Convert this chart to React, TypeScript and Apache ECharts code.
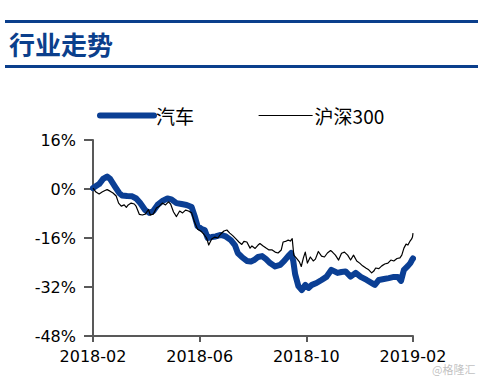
import { useEffect, useRef } from 'react';
import * as echarts from 'echarts';

const xTickLabels = ['2018-02', '2018-06', '2018-10', '2019-02'];
const yTicks = [16, 0, -16, -32, -48];

// months since 2018-02 (x) and cumulative return % (y)
const autoMonths = [0, 0.23, 0.38, 0.53, 0.64, 0.83, 0.98, 1.09, 1.28, 1.47, 1.62, 1.77, 1.96, 2.11, 2.26, 2.42, 2.6, 2.79, 2.94, 3.13, 3.32, 3.51, 3.7, 3.81, 3.92, 4.08, 4.19, 4.3, 4.45, 4.6, 4.79, 4.98, 5.17, 5.32, 5.43, 5.58, 5.77, 5.92, 6.04, 6.19, 6.34, 6.49, 6.64, 6.83, 7.02, 7.17, 7.32, 7.43, 7.51, 7.58, 7.7, 7.83, 7.96, 8.08, 8.21, 8.38, 8.57, 8.75, 8.94, 9.06, 9.17, 9.32, 9.47, 9.66, 9.85, 10.04, 10.26, 10.49, 10.57, 10.72, 10.91, 11.09, 11.28, 11.43, 11.55, 11.66, 11.81, 11.9, 11.96, 12.0];
const autoValues = [0.3, 1.6, 3.3, 4.1, 3.3, 0.7, -1.3, -2.1, -2.3, -2.4, -3.1, -4.6, -6.9, -7.8, -7.2, -5.2, -3.9, -3.1, -3.4, -4.6, -4.9, -5.2, -5.9, -8.8, -12.1, -13.1, -13.4, -16.0, -15.7, -15.5, -15.0, -15.5, -16.7, -18.3, -20.9, -22.2, -23.5, -23.7, -23.2, -22.2, -21.9, -22.9, -24.2, -25.3, -24.8, -23.5, -21.9, -20.9, -23.5, -27.8, -31.7, -33.0, -31.3, -32.3, -31.3, -30.7, -29.7, -28.7, -26.4, -26.9, -27.4, -27.1, -26.9, -28.6, -27.4, -28.7, -29.7, -30.9, -31.3, -29.7, -29.4, -29.1, -28.7, -28.7, -30.0, -26.4, -25.1, -24.2, -23.2, -22.7];

const hs300Months = [0, 0.11, 0.23, 0.34, 0.45, 0.53, 0.64, 0.75, 0.87, 0.96, 1.06, 1.17, 1.25, 1.32, 1.43, 1.55, 1.62, 1.74, 1.85, 1.96, 2.08, 2.15, 2.26, 2.38, 2.49, 2.6, 2.72, 2.83, 2.91, 3.02, 3.13, 3.25, 3.36, 3.47, 3.58, 3.7, 3.81, 3.92, 4.04, 4.15, 4.26, 4.34, 4.45, 4.57, 4.68, 4.79, 4.91, 5.02, 5.13, 5.25, 5.36, 5.47, 5.58, 5.66, 5.77, 5.89, 5.96, 6.08, 6.19, 6.26, 6.38, 6.49, 6.6, 6.72, 6.83, 6.94, 7.06, 7.13, 7.25, 7.32, 7.4, 7.47, 7.53, 7.62, 7.74, 7.81, 7.89, 7.96, 8.04, 8.15, 8.26, 8.34, 8.45, 8.57, 8.68, 8.79, 8.91, 8.98, 9.09, 9.21, 9.32, 9.43, 9.55, 9.66, 9.77, 9.89, 10.0, 10.11, 10.23, 10.34, 10.45, 10.53, 10.6, 10.72, 10.83, 10.94, 11.06, 11.17, 11.28, 11.4, 11.51, 11.58, 11.66, 11.74, 11.81, 11.89, 11.95, 11.98, 12.0];
const hs300Values = [0.3, -1.0, -1.6, -1.0, -0.5, -0.2, -0.7, -1.3, -2.3, -4.6, -5.6, -5.2, -6.0, -5.2, -4.6, -4.9, -5.7, -8.3, -8.5, -8.2, -6.7, -8.5, -8.2, -6.2, -5.6, -4.6, -5.2, -4.2, -4.9, -7.5, -9.0, -7.2, -7.8, -6.9, -7.2, -7.8, -10.8, -13.1, -13.7, -14.7, -16.0, -18.3, -16.3, -15.7, -16.0, -14.7, -13.7, -13.4, -14.4, -15.3, -16.3, -17.3, -18.1, -17.1, -17.3, -19.3, -18.6, -19.4, -18.3, -17.8, -18.6, -19.3, -19.9, -19.9, -20.6, -20.9, -19.9, -17.3, -17.0, -16.7, -17.0, -16.2, -21.6, -22.5, -23.8, -25.3, -22.5, -20.6, -24.2, -22.2, -23.5, -22.9, -20.4, -21.9, -22.2, -20.9, -20.1, -20.6, -21.6, -23.2, -21.0, -20.6, -21.6, -23.2, -21.6, -23.5, -24.2, -25.1, -25.8, -26.4, -27.4, -26.8, -25.8, -26.0, -25.1, -24.5, -24.2, -23.2, -23.5, -22.7, -22.5, -21.6, -19.3, -18.0, -18.3, -17.0, -16.3, -15.7, -14.4];

const seriesNames = ['汽车', '沪深300'];

export default function App() {
  const ref = useRef<HTMLDivElement>(null);
  useEffect(() => {
    if (!ref.current) return;
    const chart = echarts.init(ref.current, null, { renderer: 'svg' });
    const axisColor = '#595959';
    const blue = '#0B3F94';
    chart.setOption({
      animation: false,
      backgroundColor: '#ffffff',
      grid: { left: 93, right: 65, top: 140, bottom: 42, containLabel: false },
      legend: {
        data: [
          { name: seriesNames[0], itemStyle: { opacity: 0 }, lineStyle: { width: 6, cap: 'round' } },
          { name: seriesNames[1], itemStyle: { opacity: 0 }, lineStyle: { width: 1.2 } },
        ],
        left: 92,
        top: 101,
        itemWidth: 54,
        itemHeight: 12,
        itemGap: 64,
        textStyle: { fontFamily: 'Noto Sans CJK SC', fontSize: 19, color: '#000', padding: [0, 0, 0, -3] },
      },
      xAxis: {
        type: 'value',
        min: 0,
        max: 12,
        interval: 4,
        axisLine: { show: true, onZero: false, lineStyle: { color: axisColor, width: 2 } },
        axisTick: { show: true, inside: false, length: 6, lineStyle: { color: axisColor, width: 2 } },
        axisLabel: {
          margin: 12,
          fontFamily: 'DejaVu Sans',
          fontSize: 16,
          color: '#000',
          formatter: (v: number) => xTickLabels[Math.round(v / 4)] ?? '',
        },
        splitLine: { show: false },
      },
      yAxis: {
        type: 'value',
        min: yTicks[yTicks.length - 1],
        max: yTicks[0],
        interval: 16,
        axisLine: { show: true, onZero: false, lineStyle: { color: axisColor, width: 2 } },
        axisTick: { show: true, inside: false, length: 9, lineStyle: { color: axisColor, width: 2 } },
        axisLabel: {
          margin: 17,
          fontFamily: 'DejaVu Sans',
          fontSize: 16,
          color: '#000',
          formatter: (v: number) => `${v}%`,
        },
        splitLine: { show: false },
      },
      series: [
        {
          name: seriesNames[0],
          type: 'line',
          data: autoMonths.map((m, i) => [m, autoValues[i]]),
          symbol: 'none',
          color: blue,
          lineStyle: { color: blue, width: 6, join: 'round', cap: 'round' },
          clip: false,
        },
        {
          name: seriesNames[1],
          type: 'line',
          data: hs300Months.map((m, i) => [m, hs300Values[i]]),
          symbol: 'none',
          color: '#000',
          lineStyle: { color: '#000', width: 1.2, join: 'round' },
          clip: false,
        },
      ],
      graphic: [
        { type: 'rect', shape: { x: 5, y: 20, width: 473, height: 3 }, style: { fill: '#0B3F8C' } },
        { type: 'rect', shape: { x: 5, y: 65, width: 473, height: 3 }, style: { fill: '#0B3F8C' } },
        {
          type: 'text',
          x: 9,
          y: 43,
          style: {
            text: '行业走势',
            fontFamily: 'Noto Sans CJK SC',
            fontWeight: 'bold',
            fontSize: 26,
            fill: '#0B3F8C',
            verticalAlign: 'middle',
          },
        },
        {
          type: 'text',
          x: 432,
          y: 369,
          style: {
            text: '@格隆汇',
            fontFamily: 'Noto Sans CJK SC',
            fontSize: 11,
            fill: 'rgba(150,150,150,0.6)',
            verticalAlign: 'middle',
          },
        },
      ],
    });
    return () => chart.dispose();
  }, []);
  return <div ref={ref} style={{ position: 'fixed', left: 0, top: 0, width: 478, height: 378 }} />;
}
